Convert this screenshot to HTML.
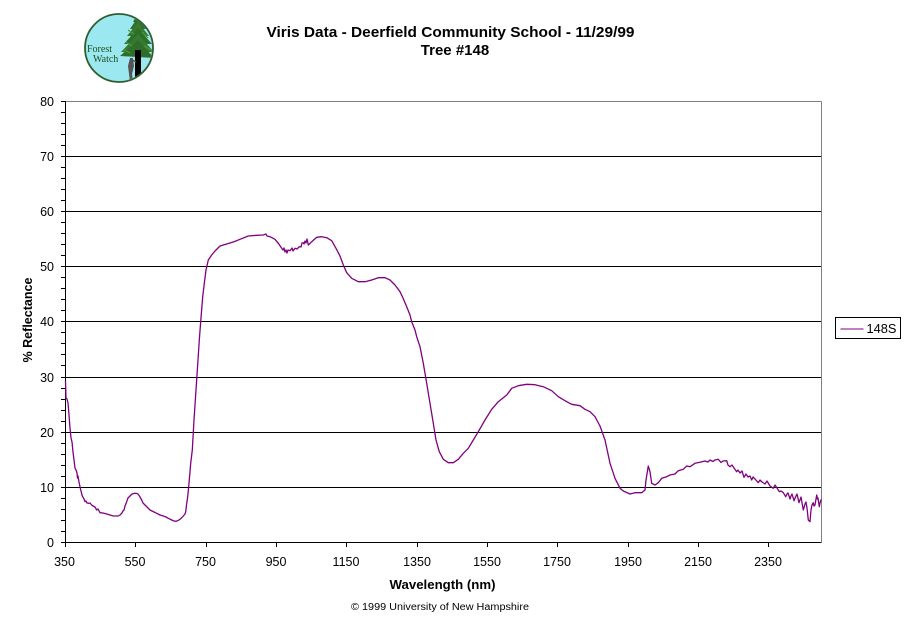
<!DOCTYPE html>
<html><head><meta charset="utf-8"><style>
html,body{margin:0;padding:0;background:#fff;}
svg{display:block;}
text{font-family:"Liberation Sans",Arial,sans-serif;fill:#000;}
</style></head><body>
<svg width="911" height="623" viewBox="0 0 911 623" xmlns="http://www.w3.org/2000/svg">
<rect width="911" height="623" fill="#fff"/>
<!-- Logo -->
<g>
<circle cx="119" cy="48" r="34" fill="#9be8f0" stroke="#2f5f2f" stroke-width="1.8"/>
<clipPath id="cc"><circle cx="119" cy="48" r="33"/></clipPath>
<g clip-path="url(#cc)">
<polygon points="138,13 143,22 133,22" fill="#2f6e2a"/>
<polygon points="138,17 146,29 130,29" fill="#2f6e2a"/>
<polygon points="138,22 149,36 127,36" fill="#357a30"/>
<polygon points="138,28 152,44 124,44" fill="#2f6e2a"/>
<polygon points="138,34 154,52 121,52" fill="#357a30"/>
<polygon points="138,40 154,58 120,56" fill="#2f6e2a"/>
<path d="M128,30 L134,34 M142,32 L148,38 M126,42 L132,46 M144,46 L151,50 M124,50 L130,53" stroke="#4e9a44" stroke-width="1.2"/>
<rect x="135" y="50" width="6" height="32" fill="#000"/>
<path d="M130,58 L133,58 L134,66 L132,74 L133,82 L130,82 L129,74 L128,66 Z" fill="#555"/>
<path d="M132,60 L136,62" stroke="#555" stroke-width="1.5"/>
</g>
<text x="87" y="52" font-size="10" style="font-family:'Liberation Serif',serif;fill:#1f4f1f">Forest</text>
<text x="93" y="62" font-size="10" style="font-family:'Liberation Serif',serif;fill:#1f4f1f">Watch</text>
</g>
<!-- Title -->
<text x="266.5" y="37" font-size="15" font-weight="bold" textLength="368" lengthAdjust="spacingAndGlyphs">Viris Data - Deerfield Community School - 11/29/99</text>
<text x="455" y="55" font-size="15" font-weight="bold" text-anchor="middle">Tree #148</text>
<!-- Plot border -->
<line x1="65.5" y1="101.5" x2="821.5" y2="101.5" stroke="#808080" stroke-width="1"/>
<line x1="821.5" y1="101.5" x2="821.5" y2="542" stroke="#808080" stroke-width="1"/>
<!-- gridlines -->
<g stroke="#000" stroke-width="1">
<line x1="65" y1="156.5" x2="821" y2="156.5"/>
<line x1="65" y1="211.5" x2="821" y2="211.5"/>
<line x1="65" y1="266.5" x2="821" y2="266.5"/>
<line x1="65" y1="321.5" x2="821" y2="321.5"/>
<line x1="65" y1="377.5" x2="821" y2="377.5"/>
<line x1="65" y1="432.5" x2="821" y2="432.5"/>
<line x1="65" y1="487.5" x2="821" y2="487.5"/>
<!-- axes -->
<line x1="65.5" y1="101" x2="65.5" y2="542.5"/>
<line x1="65" y1="542.5" x2="821.5" y2="542.5"/>
</g>
<!-- y ticks -->
<g stroke="#000" stroke-width="1">
<path d="M61,101.5H65 M61,112.5H65 M61,123.5H65 M61,134.5H65 M61,145.5H65 M61,156.5H65 M61,167.5H65 M61,178.5H65 M61,189.5H65 M61,200.5H65 M61,211.5H65 M61,222.5H65 M61,233.5H65 M61,244.5H65 M61,255.5H65 M61,266.5H65 M61,277.5H65 M61,288.5H65 M61,299.5H65 M61,310.5H65 M61,321.5H65 M61,332.5H65 M61,343.5H65 M61,354.5H65 M61,365.5H65 M61,377.5H65 M61,388.5H65 M61,399.5H65 M61,410.5H65 M61,421.5H65 M61,432.5H65 M61,443.5H65 M61,454.5H65 M61,465.5H65 M61,476.5H65 M61,487.5H65 M61,498.5H65 M61,509.5H65 M61,520.5H65 M61,531.5H65 M61,542.5H65"/>
<!-- x ticks -->
<path d="M65.5,542V547 M135.5,542V547 M206.5,542V547 M276.5,542V547 M346.5,542V547 M417.5,542V547 M487.5,542V547 M557.5,542V547 M628.5,542V547 M698.5,542V547 M768.5,542V547"/>
</g>
<!-- y labels -->
<g font-size="12.5" text-anchor="end">
<text x="54" y="106">80</text>
<text x="54" y="161">70</text>
<text x="54" y="216">60</text>
<text x="54" y="271">50</text>
<text x="54" y="326">40</text>
<text x="54" y="382">30</text>
<text x="54" y="437">20</text>
<text x="54" y="492">10</text>
<text x="54" y="547">0</text>
</g>
<!-- x labels -->
<g font-size="12.5" text-anchor="middle">
<text x="64.5" y="566">350</text>
<text x="135" y="566">550</text>
<text x="205.5" y="566">750</text>
<text x="276" y="566">950</text>
<text x="346" y="566">1150</text>
<text x="417" y="566">1350</text>
<text x="487" y="566">1550</text>
<text x="557" y="566">1750</text>
<text x="628" y="566">1950</text>
<text x="698" y="566">2150</text>
<text x="768" y="566">2350</text>
</g>
<!-- axis titles -->
<text x="442.5" y="589" font-size="13" font-weight="bold" text-anchor="middle" textLength="106" lengthAdjust="spacingAndGlyphs">Wavelength (nm)</text>
<text transform="translate(32,320) rotate(-90)" font-size="12.5" font-weight="bold" text-anchor="middle" textLength="85" lengthAdjust="spacingAndGlyphs">% Reflectance</text>
<text x="440" y="610" font-size="10" text-anchor="middle" textLength="178" lengthAdjust="spacingAndGlyphs">© 1999 University of New Hampshire</text>
<!-- legend -->
<rect x="835.5" y="317.5" width="65" height="21" fill="#fff" stroke="#000" stroke-width="1"/>
<line x1="840.5" y1="329" x2="863.5" y2="329" stroke="#800080" stroke-width="1"/>
<text x="866.5" y="333" font-size="12.5" textLength="30" lengthAdjust="spacingAndGlyphs">148S</text>
<!-- series -->
<polyline fill="none" stroke="#800080" stroke-width="1.3" stroke-linejoin="round" points="
65.5,381 65.8,390 66,398 67,399 68,403 69,415 70,428 71,438 72,442 73,452 74,460 75,468 76,470 77,473 77.5,478 78,476 79,482 80,486.7 81,491 82,495 82.7,496.7 84,499 85,501.7 86,501 87,503 88.3,503.3 90,503 91.7,505 93,506 95,507 96.7,510 98,509 100,512.7 103,513 106.7,514 110,515 113.3,516 116,516 118.3,516 120,515 121.7,513.3 123,511 124,510 125,506 126.7,501.7 128,498 130,496 132,494 135,493.3 137,493.5 138.3,494.3 140,497 141.7,500 143,503 145,505 147,507 150,510 153,511.5 156.7,513.3 160,515 163.3,516 166,517 168.3,518.3 171.7,520 174,521 176,521.3 178,520.5 180,519.3 182,517.5 183.3,516 185,514 185.7,511.7 186.5,505 187.7,496.7 189,483.3 190.7,463.3 192.3,450 194,420 196,390 198,360 199.3,340 200.7,321.7 202.7,296.7 204.3,283.3 206,270 208.3,260 211.7,255 215,251 220,246 226.7,244 233.3,242 240,239.3 248.3,236 256.7,235.3 263.3,235 266,234 267,236 270,236.7 275,239.3 278.3,243.3 281.7,248.3 283,250 284,248 285,252 286,250 287,253 288,250 290,250.7 292,248 293,251 295,248.3 297,249 299.3,246.7 301,247 302,243 303.3,242.7 304,244 305,241 306,243 307,239 308.3,245 311.7,241.7 316.7,237.3 321.7,236.7 326.7,237.7 331.7,240.7 336,248.3 340,256 343.3,265 346.7,272.7 351.7,278.3 358.3,281.7 365,281.7 371.7,280 378.3,277.7 385,277.7 390,280 395,285 400,291.7 403,298 406.7,306.7 410,315 411.7,321.7 415,330 416.7,336.7 420,346.7 423.3,363.3 426.7,383.3 430,403.3 433.3,423.3 436,440 439.3,451.7 443.3,459.3 448.3,462.7 453.3,462.7 458.3,459.3 463.3,453.3 468.3,448.3 473.3,440 478.3,431.7 485,420 491.7,409.3 498.3,401.7 506.7,395 511.7,388.3 518.3,385.7 526.7,384.3 535,384.7 543.3,386.7 551.7,390.7 558.3,396.7 566.7,401.7 571.7,404.3 580,405.7 585,409.3 590,411.7 595,416.7 600,426 605,440 610,463.3 615,478.3 620,488.3 623.3,491 630,494 635,492.7 641.7,492.7 645,490 646,480 648.3,466 650,471.7 651.7,483.3 655,485 658.3,482.7 661.7,478.3 666.7,476.7 670,475 675,474 678.3,470.7 683.3,469.3 686.7,466 690,466.7 695,463.3 700,462.3 705,461 708,462 710,460 713,461.5 715,460 718.3,459.3 721,462.5 723,461 726.7,460.7 728,465 730,466.7 732,465 734,468 736.7,471.7 738,470 740,473 742,471 744,477.3 746,474 748,477 750,476 751.7,480 753,477 755,479 758.3,482.7 760,480 762,482 765,484 767,481 770,486 773.3,488.3 775,485 777,488 779.3,491.7 781,491 783.3,492.7 785.7,496.7 787,494 788,493 790,499 791,496 792,494 794,500.7 795.5,497 797,494 799,502.7 801,497 803.3,510 805,504 806,502 807,508 808.3,520 810,521.7 811,510 812,505 813.3,502.7 814,506 815,505 816.7,495 817.5,499 818,498 819.3,506.7 820,503 821.3,499.3"/>
</svg>
</body></html>
